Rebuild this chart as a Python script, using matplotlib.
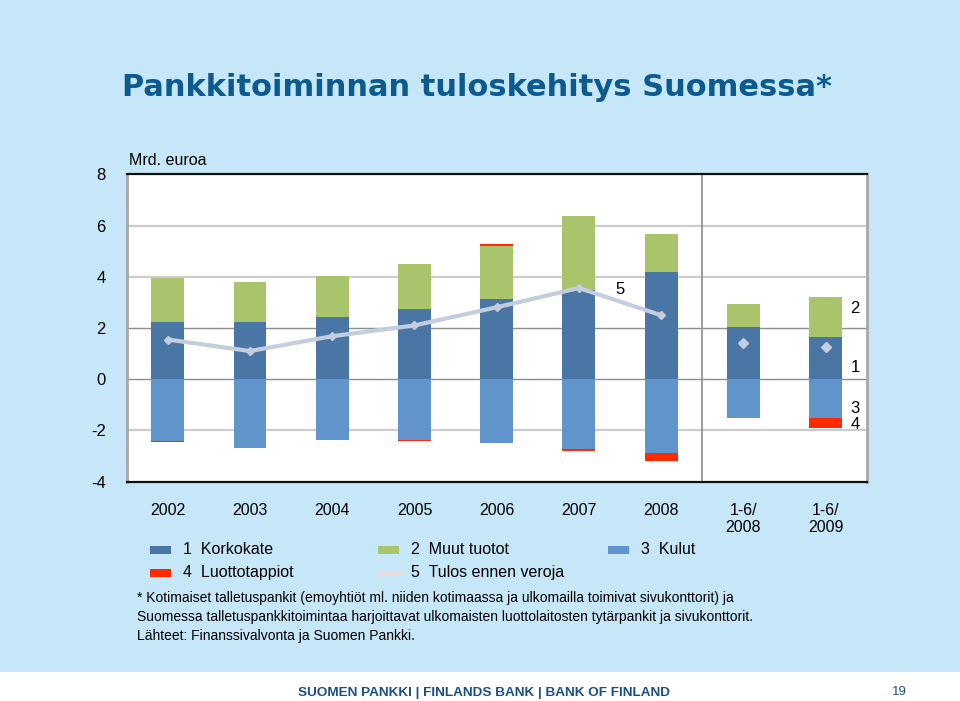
import numpy as np
import matplotlib
matplotlib.use("Agg")
import matplotlib.pyplot as plt
from matplotlib.patches import Rectangle
from matplotlib.lines import Line2D

plt.rcParams["font.family"] = ["Liberation Sans", "DejaVu Sans"]
plt.rcParams["axes.unicode_minus"] = False

# data, Mrd. euroa
categories = ["2002", "2003", "2004", "2005", "2006", "2007", "2008", "1-6/\n2008", "1-6/\n2009"]
korkokate = [2.22, 2.22, 2.42, 2.75, 3.13, 3.50, 4.17, 2.03, 1.64]
muut_tuotot = [1.75, 1.56, 1.62, 1.74, 2.07, 2.87, 1.49, 0.91, 1.56]
kulut = [-2.43, -2.69, -2.37, -2.37, -2.49, -2.74, -2.87, -1.51, -1.51]
luottotappiot = [-0.02, 0.0, 0.0, -0.06, 0.07, -0.08, -0.34, 0.0, -0.40]
tulos = [1.55, 1.10, 1.68, 2.10, 2.81, 3.56, 2.50, 1.40, 1.25]
n_years = 7  # annual figures joined by a line, half-years as lone points

c_kork = "#4a76a5"
c_muut = "#a9c46b"
c_kulut = "#6194cb"
c_luotto = "#ff2a00"
c_tulos = "#c4cde0"
bg = "#c6e7f7"

fig = plt.figure(figsize=(9.6, 7.01), dpi=100)
fig.patch.set_facecolor(bg)
fig.patches.append(Rectangle((0, 0), 1, 29 / 701, transform=fig.transFigure,
                             facecolor="white", edgecolor="none", zorder=0))

ax = fig.add_axes([126.7 / 960, 219.3 / 701, 740 / 960, 307.4 / 701])
ax.set_facecolor("white")

x = np.arange(len(categories))
w = 0.4
kork = np.array(korkokate)
muut = np.array(muut_tuotot)
kul = np.array(kulut)
lt = np.array(luottotappiot)

ax.bar(x, kork, w, color=c_kork, zorder=3)
ax.bar(x, muut, w, bottom=kork, color=c_muut, zorder=3)
ax.bar(x, kul, w, color=c_kulut, zorder=3)
lt_bottom = np.where(lt >= 0, kork + muut, kul)
ax.bar(x, lt, w, bottom=lt_bottom, color=c_luotto, zorder=3)

ax.plot(x[:n_years], tulos[:n_years], color=c_tulos, lw=3, marker="D", ms=4,
        zorder=4)
ax.plot(x[n_years:], tulos[n_years:], ls="none", color=c_tulos, marker="D", ms=5,
        zorder=4)

ax.set_xlim(-0.5, len(categories) - 0.5)
ax.set_ylim(-4, 8)
ax.set_yticks([-4, -2, 0, 2, 4, 6, 8])
ax.tick_params(axis="y", length=0, pad=15, labelsize=12)
ax.set_xticks([])

for yv in [6, 4, -2]:
    ax.axhline(yv, color="#cccccc", lw=1.6, zorder=1)
for yv in [2, 0]:
    ax.axhline(yv, color="#8e8e8e", lw=1.0, zorder=1)
ax.axvline(n_years - 0.5, color="#8e8e8e", lw=1.2, zorder=1)

for s in ["top", "bottom"]:
    ax.spines[s].set_color("#111111")
    ax.spines[s].set_linewidth(1.6)
for s in ["left", "right"]:
    ax.spines[s].set_color("#a8a8a8")
    ax.spines[s].set_linewidth(2)

# category labels below the plot area
for xi, lab in zip(x, categories):
    ax.annotate(lab, (xi, -4), xytext=(0, -15), textcoords="offset points",
                ha="center", va="top", fontsize=11.5, linespacing=1.2,
                annotation_clip=False)

ax.text(0.003, 8.25, "Mrd. euroa", transform=ax.get_yaxis_transform(),
        fontsize=11.5, va="bottom")

ax.text(5.5, 3.5, "5", fontsize=12, ha="center", va="center")
last = len(categories) - 1
for val, lab in [((kork[last] + muut[last] + kork[last]) / 2 + 0.35, "2"),
                 (kork[last] / 2 - 0.35, "1"),
                 (kul[last] / 2 - 0.4, "3"),
                 (kul[last] + lt[last] / 2 - 0.05, "4")]:
    ax.text(last + 0.3, val, lab, fontsize=12, ha="left", va="center")

fig.text(122 / 960, 1 - 88 / 701, "Pankkitoiminnan tuloskehitys Suomessa*",
         fontsize=22, fontweight="bold", color="#0d5b8e", va="center",
         family="DejaVu Sans")

# legend, drawn by hand to match the slide's column positions
legend_items = [
    ("1  Korkokate", c_kork, 150, 550, "patch"),
    ("2  Muut tuotot", c_muut, 378, 550, "patch"),
    ("3  Kulut", c_kulut, 608, 550, "patch"),
    ("4  Luottotappiot", c_luotto, 150, 573, "patch"),
    ("5  Tulos ennen veroja", "#f0d8d8", 378, 573, "line"),
]
for lab, col, px, py, kind in legend_items:
    fy = 1 - py / 701
    if kind == "patch":
        fig.patches.append(Rectangle((px / 960, fy - 4 / 701), 21 / 960, 8 / 701,
                                     transform=fig.transFigure, facecolor=col,
                                     edgecolor="none"))
    else:
        fig.lines.append(Line2D([px / 960, (px + 21) / 960], [fy, fy],
                                transform=fig.transFigure, color=col, lw=2,
                                marker="+", markevery=[1], ms=5))
    fig.text((px + 33) / 960, fy, lab, fontsize=11.5, va="center")

notes = ["* Kotimaiset talletuspankit (emoyhtiöt ml. niiden kotimaassa ja ulkomailla toimivat sivukonttorit) ja",
         "Suomessa talletuspankkitoimintaa harjoittavat ulkomaisten luottolaitosten tytärpankit ja sivukonttorit.",
         "Lähteet: Finanssivalvonta ja Suomen Pankki."]
for i, t in enumerate(notes):
    fig.text(137 / 960, 1 - (598 + 19 * i) / 701, t, fontsize=10, va="center")

fig.text(484 / 960, 1 - 693 / 701, "SUOMEN PANKKI | FINLANDS BANK | BANK OF FINLAND",
         fontsize=9.7, fontweight="bold", color="#1a4f84", ha="center", va="center")
fig.text(899 / 960, 1 - 692 / 701, "19", fontsize=9.5, color="#1a4f84",
         ha="center", va="center")

fig.savefig("out.png", dpi=100, facecolor=fig.get_facecolor())
